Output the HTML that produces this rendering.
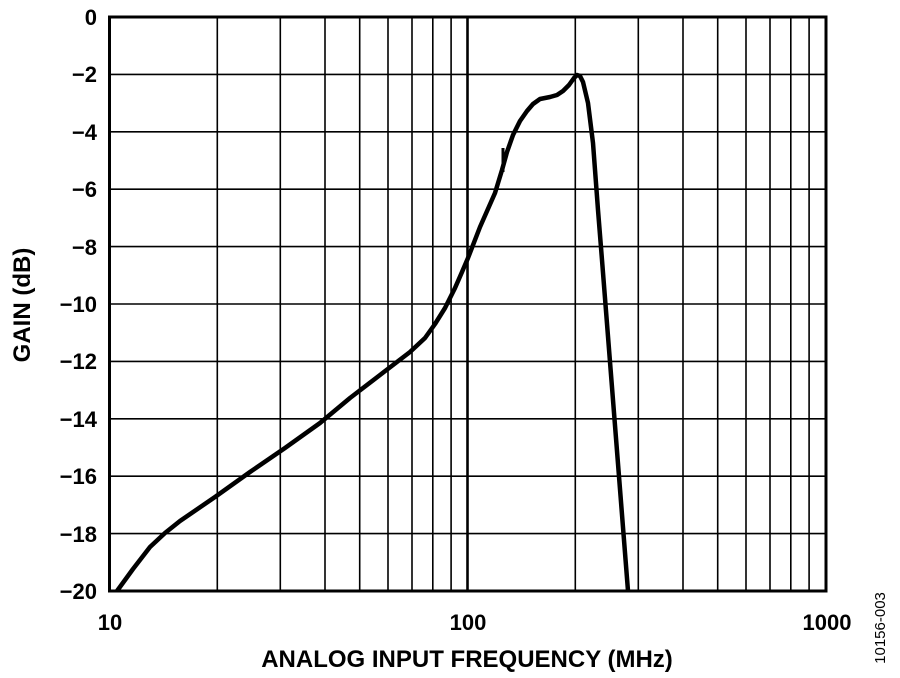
<!DOCTYPE html>
<html><head><style>body{margin:0;background:#fff}svg{display:block}</style></head><body>
<svg width="900" height="678" xmlns="http://www.w3.org/2000/svg" font-family="Liberation Sans, Arial, sans-serif" font-weight="bold">
<g stroke="#000" stroke-width="1.6">
<line x1="217.3" y1="17" x2="217.3" y2="591"/><line x1="280.3" y1="17" x2="280.3" y2="591"/><line x1="325" y1="17" x2="325" y2="591"/><line x1="359.7" y1="17" x2="359.7" y2="591"/><line x1="388" y1="17" x2="388" y2="591"/><line x1="412" y1="17" x2="412" y2="591"/><line x1="432.8" y1="17" x2="432.8" y2="591"/><line x1="451.1" y1="17" x2="451.1" y2="591"/>
<line x1="575.3" y1="17" x2="575.3" y2="591"/><line x1="638.3" y1="17" x2="638.3" y2="591"/><line x1="683" y1="17" x2="683" y2="591"/><line x1="717.7" y1="17" x2="717.7" y2="591"/><line x1="746" y1="17" x2="746" y2="591"/><line x1="770" y1="17" x2="770" y2="591"/><line x1="790.8" y1="17" x2="790.8" y2="591"/><line x1="809.1" y1="17" x2="809.1" y2="591"/>
<line x1="467.5" y1="17" x2="467.5" y2="591" stroke-width="2.6"/>
<line x1="109.5" y1="74.4" x2="826" y2="74.4"/><line x1="109.5" y1="131.8" x2="826" y2="131.8"/><line x1="109.5" y1="189.2" x2="826" y2="189.2"/><line x1="109.5" y1="246.6" x2="826" y2="246.6"/><line x1="109.5" y1="304" x2="826" y2="304"/><line x1="109.5" y1="361.4" x2="826" y2="361.4"/><line x1="109.5" y1="418.8" x2="826" y2="418.8"/><line x1="109.5" y1="476.2" x2="826" y2="476.2"/><line x1="109.5" y1="533.6" x2="826" y2="533.6"/>
</g>
<rect x="109.5" y="17" width="716.5" height="574" fill="none" stroke="#000" stroke-width="3"/>
<path d="M117,591 L133,569 L150,547 L165,533 L180,521 L215,497 L250,472 L285,448 L320,423 L350,398 L380,375 L410,352 L425,338 L435,324 L445,308 L455,288 L462,272 L468,258 L480,227 L495,193 L502,170 L507,152 L513,135 L520,121 L527,111 L533,104 L540,99 L550,97 L557,95 L563,91 L569,85 L574,78 L577,75 L580,76 L583,82 L588,103 L593,143 L598,210 L602,260 L628,591" fill="none" stroke="#000" stroke-width="4.5" stroke-linejoin="round"/>
<path d="M503,172 L503,148" stroke="#000" stroke-width="3"/>
<g font-size="22" text-anchor="end">
<text x="97" y="25">0</text><text x="97" y="82">−2</text><text x="97" y="140">−4</text><text x="97" y="197">−6</text><text x="97" y="255">−8</text><text x="97" y="312">−10</text><text x="97" y="369">−12</text><text x="97" y="427">−14</text><text x="97" y="484">−16</text><text x="97" y="542">−18</text><text x="97" y="599">−20</text>
</g>
<g font-size="22" text-anchor="middle">
<text x="110" y="630">10</text><text x="468" y="630">100</text><text x="827" y="630">1000</text>
</g>
<g font-size="24" text-anchor="middle">
<text x="467" y="667">ANALOG INPUT FREQUENCY (MHz)</text>
<text transform="translate(30,305) rotate(-90)">GAIN (dB)</text>
</g>
<text transform="translate(885,628) rotate(-90)" font-size="15" font-weight="normal" text-anchor="middle">10156-003</text>
</svg>
</body></html>
